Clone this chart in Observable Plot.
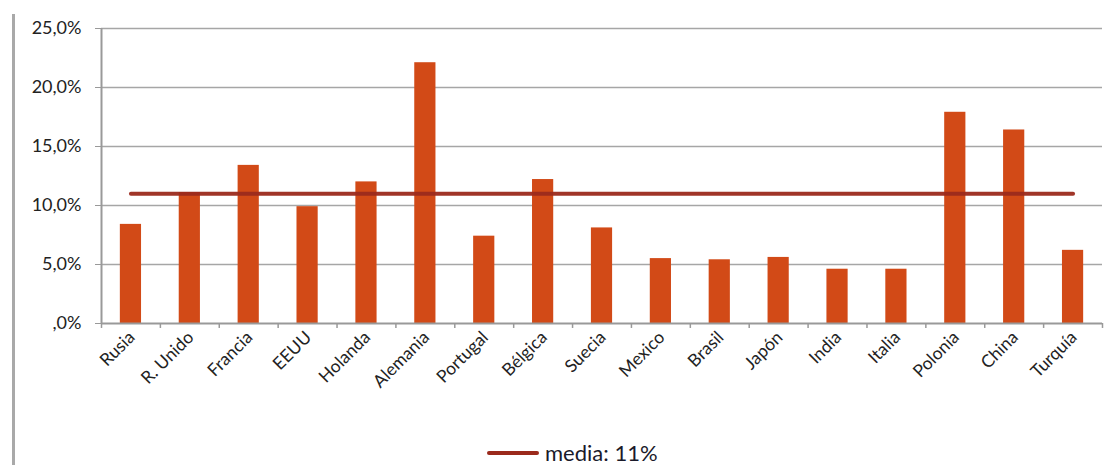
<!DOCTYPE html>
<html><head><meta charset="utf-8">
<script src="https://cdn.jsdelivr.net/npm/d3@7"></script>
<script src="https://cdn.jsdelivr.net/npm/@observablehq/plot@0.6"></script>
<style>
html,body{margin:0;padding:0;background:#fff;}
#wrap{position:relative;width:1120px;height:465px;overflow:hidden;font-family:Lato,"Open Sans",sans-serif;}
#frame{position:absolute;left:12px;top:14px;width:3px;height:460px;background:#a9a9a9;}
#legend{position:absolute;left:487px;top:442px;display:flex;align-items:center;font-size:22px;line-height:22px;color:#1a1a2a;}
#legend span.l{display:inline-block;width:52px;height:4px;background:#9b2a1c;border-radius:2px;margin-right:6px;}
</style></head>
<body><div id="wrap"><div id="frame"></div><div id="chart"></div><div id="legend"><span class="l"></span>media: 11%</div></div>
<script>
const countries = ["Rusia","R. Unido","Francia","EEUU","Holanda","Alemania","Portugal","Bélgica","Suecia","Mexico","Brasil","Japón","India","Italia","Polonia","China","Turquía"];
const values = [8.4,11.1,13.4,9.9,12.0,22.1,7.4,12.2,8.1,5.5,5.4,5.6,4.6,4.6,17.9,16.4,6.2];
const mean = 11;
const yTicks = [0,5,10,15,20,25];

const W = 1120, ML = 101, MR = 18;
const step = (W - ML - MR) / countries.length;
const data = countries.map((c,i)=>({c, v: values[i]}));
const fmt = d => d === 0 ? ",0%" : d.toFixed(1).replace(".", ",") + "%";

const chart = Plot.plot({
  width: W, height: 440,
  marginLeft: ML, marginRight: MR, marginTop: 28, marginBottom: 117,
  style: {fontFamily: "Lato, 'Open Sans', sans-serif", fontSize: "16px", color: "#222", background: "transparent"},
  x: {domain: countries, paddingInner: 0.64, paddingOuter: 0.32, round: false, label: null},
  y: {domain: [0, 25], ticks: yTicks, label: null},
  marks: [
    Plot.ruleY(yTicks.filter(d=>d>0), {stroke: "#a6a6a6", strokeWidth: 1.5}),
    Plot.axisY({ticks: yTicks, tickFormat: fmt, tickSize: 6, tickPadding: 14, stroke: "#999", fontSize: 18, label: null}),
    Plot.barY(data, {x: "c", y: "v", fill: "#d24a17"}),
    Plot.ruleY([0], {stroke: "#999", strokeWidth: 2}),
    Plot.ruleX(countries, {x: d=>d, dx: -step/2, y1: -0.42, y2: 0, stroke: "#999", strokeWidth: 1.5}),
    Plot.ruleX([countries[countries.length-1]], {x: d=>d, dx: step/2, y1: -0.42, y2: 0, stroke: "#999", strokeWidth: 1.5}),
    Plot.ruleX([countries[0]], {x: d=>d, dx: -step/2, y1: 0, y2: 25, stroke: "#999", strokeWidth: 2}),
    Plot.line(countries, {x: d=>d, y: () => mean, stroke: "#9b2a1c", strokeWidth: 4, strokeLinecap: "round", strokeOpacity: 0.95}),
    Plot.axisX({tickSize: 0, tickRotate: -45, tickPadding: 6, textAnchor: "end", fontSize: 17.5, dx: 1, dy: 5, label: null})
  ]
});
document.getElementById("chart").appendChild(chart);
</script>
</body></html>
